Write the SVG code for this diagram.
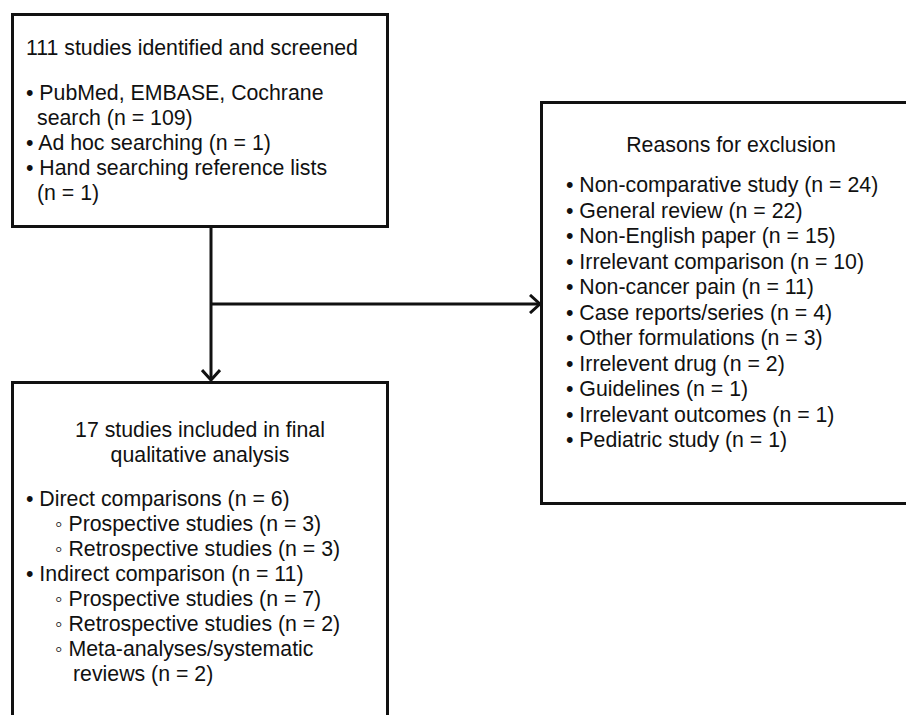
<svg xmlns="http://www.w3.org/2000/svg" width="906" height="715" viewBox="0 0 906 715">
<defs>
<style>
.box{fill:#fff;stroke:#111;stroke-width:3}
.t{font-family:"Liberation Sans",Arial,"DejaVu Sans",sans-serif;font-size:21.3px;fill:#111}
.c{text-anchor:middle}
.line{fill:none;stroke:#111;stroke-width:3}
</style>
<marker id="arr" viewBox="0 0 12 20" refX="11" refY="10" markerWidth="12" markerHeight="20" markerUnits="userSpaceOnUse" orient="auto">
<path d="M1,1 L11,10 L1,19" fill="none" stroke="#111" stroke-width="3"/>
</marker>
</defs>
<rect width="906" height="715" fill="#fff"/>
<g id="connectors">
<line class="line" x1="211" y1="227" x2="211" y2="380" marker-end="url(#arr)"/>
<line class="line" x1="211" y1="304" x2="540" y2="304" marker-end="url(#arr)"/>
</g>
<g id="identified">
<rect class="box" x="12.5" y="14.5" width="375" height="212"/>
<text class="t" x="26" y="55">111 studies identified and screened</text>
<text class="t" x="26" y="100">• PubMed, EMBASE, Cochrane</text>
<text class="t" x="37" y="125">search (n = 109)</text>
<text class="t" x="26" y="150">• Ad hoc searching (n = 1)</text>
<text class="t" x="26" y="175">• Hand searching reference lists</text>
<text class="t" x="37" y="200">(n = 1)</text>
</g>
<g id="exclusion">
<rect class="box" x="541.5" y="102.5" width="380" height="401"/>
<text class="t c" x="731" y="152">Reasons for exclusion</text>
<text class="t" x="566" y="192">• Non-comparative study (n = 24)</text>
<text class="t" x="566" y="217.5">• General review (n = 22)</text>
<text class="t" x="566" y="243">• Non-English paper (n = 15)</text>
<text class="t" x="566" y="268.5">• Irrelevant comparison (n = 10)</text>
<text class="t" x="566" y="294">• Non-cancer pain (n = 11)</text>
<text class="t" x="566" y="319.5">• Case reports/series (n = 4)</text>
<text class="t" x="566" y="345">• Other formulations (n = 3)</text>
<text class="t" x="566" y="370.5">• Irrelevent drug (n = 2)</text>
<text class="t" x="566" y="396">• Guidelines (n = 1)</text>
<text class="t" x="566" y="421.5">• Irrelevant outcomes (n = 1)</text>
<text class="t" x="566" y="447">• Pediatric study (n = 1)</text>
</g>
<g id="included">
<rect class="box" x="12.5" y="382.5" width="375" height="350"/>
<text class="t c" x="200" y="437">17 studies included in final</text>
<text class="t c" x="200" y="462">qualitative analysis</text>
<text class="t" x="26" y="506">• Direct comparisons (n = 6)</text>
<text class="t" x="55" y="531">◦ Prospective studies (n = 3)</text>
<text class="t" x="55" y="556">◦ Retrospective studies (n = 3)</text>
<text class="t" x="26" y="581">• Indirect comparison (n = 11)</text>
<text class="t" x="55" y="606">◦ Prospective studies (n = 7)</text>
<text class="t" x="55" y="631">◦ Retrospective studies (n = 2)</text>
<text class="t" x="55" y="656">◦ Meta-analyses/systematic</text>
<text class="t" x="73" y="681">reviews (n = 2)</text>
</g>
</svg>
